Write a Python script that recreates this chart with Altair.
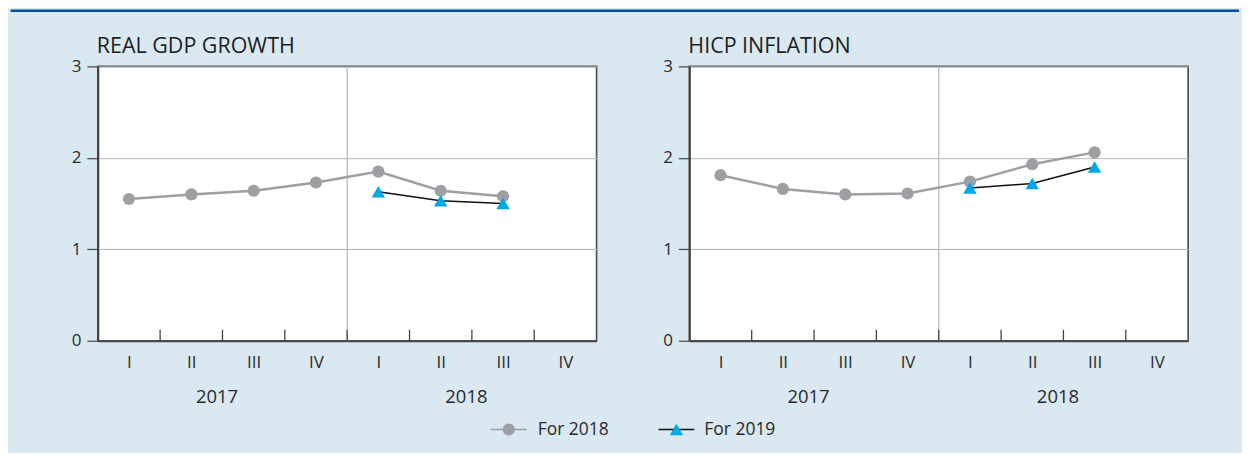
import altair as alt
import pandas as pd

# ---------------- data ----------------
quarter_labels = ["I", "II", "III", "IV", "I", "II", "III", "IV"]
years = ["2017", "2018"]
series_names = ["For 2018", "For 2019"]

gdp_for_2018 = [1.55, 1.60, 1.64, 1.73, 1.85, 1.64, 1.58]
gdp_for_2019 = [1.63, 1.53, 1.50]
hicp_for_2018 = [1.81, 1.66, 1.60, 1.61, 1.74, 1.93, 2.06]
hicp_for_2019 = [1.67, 1.72, 1.90]

titles = ["REAL GDP GROWTH", "HICP INFLATION"]

# ---------------- style ----------------
FONT = "Open Sans"
BG = "#d9e8f1"
TOPLINE = "#0b4f9c"
TXT = "#2a2a2a"
AX = "#444444"
GRID = "#b4b4b4"
GRAY = "#9e9fa3"
BLUE = "#00a9e6"
W, H = 500, 275
FS = 17
LEFT_EXT = 88.7    # space left of the first plot (chart coords)
TOTAL_W = 1234
TOTAL_H = 443
TOP_OFF = 57
LW = 2.5           # top line width

xscale = alt.Scale(domain=[0, 8], nice=False, zero=False)
yscale = alt.Scale(domain=[0, 3], nice=False)

xaxis = alt.Axis(
    values=[i + 0.5 for i in range(8)],
    labelExpr="['I','II','III','IV'][floor(datum.value) % 4]",
    ticks=False, grid=False, domainColor=AX, domainWidth=2,
    labelPadding=14, labelFontSize=FS, labelColor=TXT, labelFont=FONT,
    title=None,
)
yaxis = alt.Axis(
    values=[0, 1, 2, 3], grid=True, gridColor=GRID, gridWidth=1,
    domainColor=AX, domainWidth=2, tickColor=AX, tickWidth=1.2, tickSize=11,
    labelPadding=6, labelFontSize=FS, labelColor=TXT, labelFont=FONT,
    title=None,
)


def X(field):
    return alt.X(field, type="quantitative", scale=xscale, axis=xaxis)


def Y(field):
    return alt.Y(field, type="quantitative", scale=yscale, axis=yaxis)


def panel(title, v18, v19, extras=False):
    df18 = pd.DataFrame({"q": [i + 0.5 for i in range(len(v18))], "value": v18})
    df19 = pd.DataFrame({"q": [4 + i + 0.5 for i in range(len(v19))], "value": v19})
    sep = pd.DataFrame({"q": [4]})
    ticks = pd.DataFrame({"q": list(range(1, 8))})
    yrs = pd.DataFrame({"q": [2, 6], "label": years})
    ttl = pd.DataFrame({"t": [title]})

    layers = [
        alt.Chart(sep).mark_rule(color=GRID, strokeWidth=1.2).encode(x=X("q")),
        alt.Chart(ticks).mark_rule(color=AX, strokeWidth=1.3).encode(
            x=X("q"), y=alt.value(H), y2=alt.value(H - 11)),
        alt.Chart(df18).mark_line(color=GRAY, strokeWidth=2.5).encode(x=X("q"), y=Y("value")),
        alt.Chart(df18).mark_point(shape="circle", filled=True, opacity=1, color=GRAY, size=150).encode(
            x=X("q"), y=Y("value")),
        alt.Chart(df19).mark_line(color="#111111", strokeWidth=1.5).encode(x=X("q"), y=Y("value")),
        alt.Chart(df19).mark_point(shape="triangle-up", filled=True, opacity=1, color=BLUE, size=180).encode(
            x=X("q"), y=Y("value")),
        alt.Chart(yrs).mark_text(fontSize=18.5, font=FONT, color=TXT, baseline="middle", dx=-5.5).encode(
            x=X("q"), y=alt.value(H + 56), text="label:N"),
        alt.Chart(ttl).mark_text(fontSize=21.5, font=FONT, color="#1e1e1e", align="left",
                                 baseline="alphabetic").encode(
            x=alt.value(-1), y=alt.value(-13), text="t:N"),
    ]

    if extras:
        one = pd.DataFrame({"k": [0]})
        leg_y = 364
        x_start = -(LEFT_EXT - LW / 2)
        x_end = TOTAL_W - LEFT_EXT - LW / 2
        layers += [
            # top blue band line
            alt.Chart(one).mark_rule(color=TOPLINE, strokeWidth=LW).encode(
                x=alt.value(x_start), x2=alt.value(x_end), y=alt.value(-TOP_OFF + LW / 2)),
            # invisible bottom edge of the panel background
            alt.Chart(one).mark_rule(color=BG, strokeWidth=1).encode(
                x=alt.value(x_start), x2=alt.value(x_end), y=alt.value(TOTAL_H - TOP_OFF - 0.5)),
            # legend
            alt.Chart(one).mark_rule(color=GRAY, strokeWidth=1.5).encode(
                x=alt.value(394), x2=alt.value(430), y=alt.value(leg_y)),
            alt.Chart(one).mark_point(shape="circle", filled=True, opacity=1, color=GRAY, size=150).encode(
                x=alt.value(412), y=alt.value(leg_y)),
            alt.Chart(pd.DataFrame({"t": [series_names[0]]})).mark_text(
                fontSize=17.5, font=FONT, color=TXT, align="left", baseline="middle").encode(
                x=alt.value(441), y=alt.value(leg_y), text="t:N"),
            alt.Chart(one).mark_rule(color="#111111", strokeWidth=1.5).encode(
                x=alt.value(562), x2=alt.value(598), y=alt.value(leg_y)),
            alt.Chart(one).mark_point(shape="triangle-up", filled=True, opacity=1, color=BLUE, size=180).encode(
                x=alt.value(580), y=alt.value(leg_y)),
            alt.Chart(pd.DataFrame({"t": [series_names[1]]})).mark_text(
                fontSize=17.5, font=FONT, color=TXT, align="left", baseline="middle").encode(
                x=alt.value(608), y=alt.value(leg_y), text="t:N"),
        ]

    return alt.layer(*layers).properties(width=W, height=H)


left = panel(titles[0], gdp_for_2018, gdp_for_2019, extras=True)
right = panel(titles[1], hicp_for_2018, hicp_for_2019)

chart = alt.hconcat(left, right, spacing=93, bounds="flush").properties(
    background=BG,
    padding={"left": 0, "top": 0, "right": 0, "bottom": 0},
).configure_view(stroke="#4a4a4a", strokeWidth=1.6, fill="white")

chart.save("out.html", embed_options={"renderer": "svg", "actions": False})
